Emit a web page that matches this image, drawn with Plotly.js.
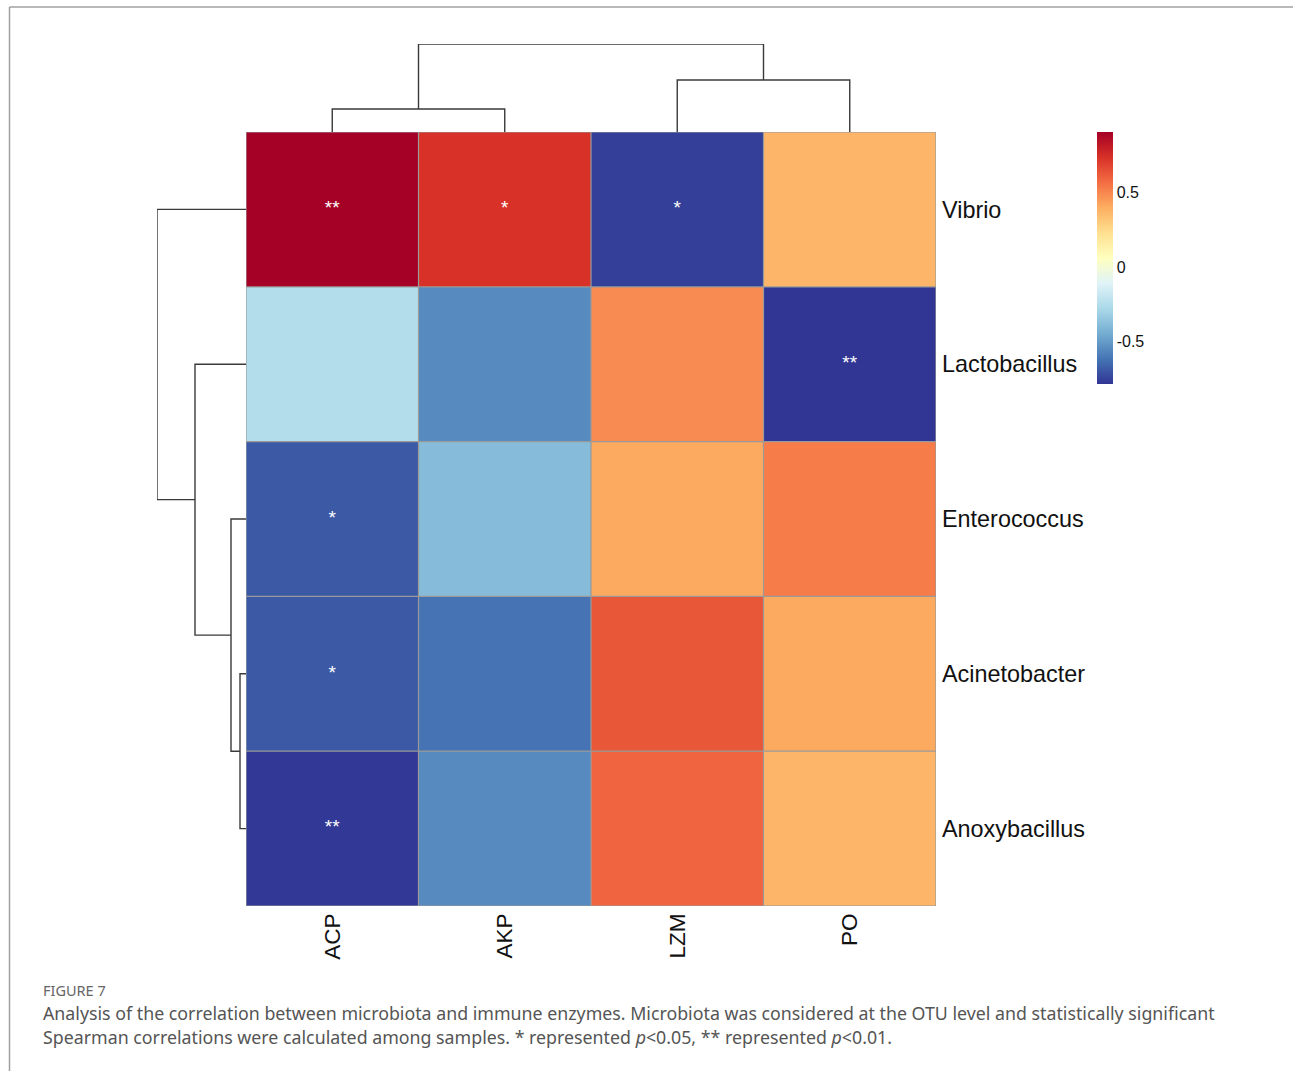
<!DOCTYPE html>
<html>
<head>
<meta charset="utf-8">
<script src="https://cdn.plot.ly/plotly-3.0.1.min.js"></script>
<style>html,body{margin:0;padding:0;background:#fff;}#chart{width:1293px;height:1071px;}</style>
</head>
<body>
<div id="chart"></div>
<script>
// ---- data ----
var colNames = ["ACP", "AKP", "LZM", "PO"];
var rowNames = ["Vibrio", "Lactobacillus", "Enterococcus", "Acinetobacter", "Anoxybacillus"];
var corrVibrio        = [0.906, 0.73, -0.76, 0.37];
var corrLactobacillus = [-0.25, -0.55, 0.49, -0.785];
var corrEnterococcus  = [-0.69, -0.39, 0.41, 0.53];
var corrAcinetobacter = [-0.69, -0.62, 0.63, 0.41];
var corrAnoxybacillus = [-0.78, -0.55, 0.59, 0.37];
var sigVibrio        = ["**", "*", "*", ""];
var sigLactobacillus = ["", "", "", "**"];
var sigEnterococcus  = ["*", "", "", ""];
var sigAcinetobacter = ["*", "", "", ""];
var sigAnoxybacillus = ["**", "", "", ""];
// hclust-style merges (negative = leaf index+1 in display order, positive = earlier merge)
var rowMergeA = [-4, -3, -2, -1];
var rowMergeB = [-5, 1, 2, 3];
var rowMergeH = [0.6, 1.5, 5.1, 8.9];
var colMergeA = [-1, -3, 1];
var colMergeB = [-2, -4, 2];
var colMergeH = [2.3, 5.2, 8.8];
var colorTicks = [-0.5, 0, 0.5];
var zMin = -0.785, zMax = 0.906;

var z = [corrVibrio, corrLactobacillus, corrEnterococcus, corrAcinetobacter, corrAnoxybacillus];
var sig = [sigVibrio, sigLactobacillus, sigEnterococcus, sigAcinetobacter, sigAnoxybacillus];

var W = 1293, H = 1071;
var px = function(v){ return v / W; };
var py = function(v){ return 1 - v / H; };

var rdylbu = ["#313695","#4575B4","#74ADD1","#ABD9E9","#E0F3F8","#FFFFBF","#FEE090","#FDAE61","#F46D43","#D73027","#A50026"];
var cscale = rdylbu.map(function(c, i){ return [i / (rdylbu.length - 1), c]; });

// dendrogram builder
function dendro(A, B, Hs) {
  var pos = [], hgt = [];
  var seg = {p: [], h: []};
  function node(k) {
    if (k < 0) return {p: -k - 1, h: 0};
    return {p: pos[k - 1], h: hgt[k - 1]};
  }
  for (var i = 0; i < A.length; i++) {
    var a = node(A[i]), b = node(B[i]);
    pos.push((a.p + b.p) / 2); hgt.push(Hs[i]);
    seg.p.push(a.p, a.p, b.p, b.p, null);
    seg.h.push(a.h, Hs[i], Hs[i], b.h, null);
  }
  return seg;
}
var rowSeg = dendro(rowMergeA, rowMergeB, rowMergeH);
var colSeg = dendro(colMergeA, colMergeB, colMergeH);

var xi = colNames.map(function(_, i){ return i; });
var yi = rowNames.map(function(_, i){ return i; });

var tx = [], ty = [], tt = [];
sig.forEach(function(r, j){ r.forEach(function(s, i){ if (s) { tx.push(i); ty.push(j); tt.push(s); } }); });

var heat = {
  type: 'heatmap', x: xi, y: yi, z: z,
  zmin: zMin, zmax: zMax, colorscale: cscale, hoverinfo: 'skip',
  colorbar: {
    x: px(1097), xanchor: 'left', y: py(258), yanchor: 'middle',
    thickness: 16, thicknessmode: 'pixels', len: 252, lenmode: 'pixels',
    outlinewidth: 0, ticks: '', tickvals: colorTicks,
    ticktext: colorTicks.map(function(v){ return String(v); }),
    tickfont: {family: 'Liberation Sans, Arial, sans-serif', size: 16, color: '#111'},
    ticklabelposition: 'outside', ticklabelstandoff: 6, xpad: 0, ypad: 0
  }
};
var stars = {
  type: 'scatter', mode: 'text', x: tx, y: ty, text: tt,
  textfont: {family: 'Liberation Sans, Arial, sans-serif', size: 19, color: '#ffffff'},
  textposition: 'middle center', hoverinfo: 'skip', showlegend: false
};
var rowDen = {
  type: 'scatter', mode: 'lines', x: rowSeg.h, y: rowSeg.p, xaxis: 'x2', yaxis: 'y',
  line: {color: '#3a3a3a', width: 1.4}, hoverinfo: 'skip', showlegend: false
};
var colDen = {
  type: 'scatter', mode: 'lines', x: colSeg.p, y: colSeg.h, xaxis: 'x', yaxis: 'y3',
  line: {color: '#3a3a3a', width: 1.4}, hoverinfo: 'skip', showlegend: false
};

var nC = colNames.length, nR = rowNames.length;
var capFont = {family: 'Noto Sans, sans-serif', size: 17.8, color: '#555555'};
var gridColor = '#9a9a9a';

var shapes = [];
for (var i = 0; i <= nC; i++) {
  shapes.push({type: 'line', xref: 'x', yref: 'y', x0: i - 0.5, x1: i - 0.5, y0: -0.5, y1: nR - 0.5,
               line: {color: gridColor, width: 1.2}, layer: 'above'});
}
for (var j = 0; j <= nR; j++) {
  shapes.push({type: 'line', xref: 'x', yref: 'y', x0: -0.5, x1: nC - 0.5, y0: j - 0.5, y1: j - 0.5,
               line: {color: gridColor, width: 1.2}, layer: 'above'});
}
shapes.push({type: 'line', xref: 'paper', yref: 'paper', x0: px(9.5), x1: px(9.5), y0: py(7), y1: -0.01,
             line: {color: '#a0a0a0', width: 1.5}});
shapes.push({type: 'line', xref: 'paper', yref: 'paper', x0: px(9.5), x1: 1.01, y0: py(7), y1: py(7),
             line: {color: '#a0a0a0', width: 1.5}});

var layout = {
  width: W, height: H,
  margin: {l: 0, r: 0, t: 0, b: 0},
  paper_bgcolor: '#ffffff', plot_bgcolor: '#ffffff',
  showlegend: false,
  xaxis: {
    domain: [px(246), px(936)], range: [-0.5, nC - 0.5], anchor: 'y',
    tickvals: xi, ticktext: colNames, tickangle: -90, ticks: '',
    showgrid: false, zeroline: false, showline: false,
    tickfont: {family: 'Liberation Sans, Arial, sans-serif', size: 22.5, color: '#111'},
    ticklabelstandoff: 2, fixedrange: true
  },
  yaxis: {
    domain: [py(906), py(132)], range: [nR - 0.5, -0.5], anchor: 'x', side: 'right',
    tickvals: yi, ticktext: rowNames, ticks: '',
    showgrid: false, zeroline: false, showline: false,
    tickfont: {family: 'Liberation Sans, Arial, sans-serif', size: 23.4, color: '#111'},
    ticklabelstandoff: 5, fixedrange: true
  },
  xaxis2: {
    domain: [px(157), px(246)], range: [rowMergeH[rowMergeH.length - 1], 0], anchor: 'y',
    visible: false, fixedrange: true
  },
  yaxis3: {
    domain: [py(132), py(44)], range: [0, colMergeH[colMergeH.length - 1]], anchor: 'x',
    visible: false, fixedrange: true
  },
  shapes: shapes,
  annotations: [
    {xref: 'paper', yref: 'paper', x: px(41), y: py(990), xanchor: 'left', yanchor: 'middle',
     showarrow: false, text: 'FIGURE 7',
     font: {family: 'Noto Sans, sans-serif', size: 14.5, color: '#666666'}},
    {xref: 'paper', yref: 'paper', x: px(41), y: py(1013), xanchor: 'left', yanchor: 'middle',
     showarrow: false, align: 'left',
     text: 'Analysis of the correlation between microbiota and immune enzymes. Microbiota was considered at the OTU level and statistically significant',
     font: capFont},
    {xref: 'paper', yref: 'paper', x: px(41), y: py(1037), xanchor: 'left', yanchor: 'middle',
     showarrow: false, align: 'left',
     text: 'Spearman correlations were calculated among samples. * represented <i>p</i>&lt;0.05, ** represented <i>p</i>&lt;0.01.',
     font: capFont}
  ]
};

Plotly.newPlot('chart', [heat, stars, rowDen, colDen], layout, {displayModeBar: false, staticPlot: true});
</script>
</body>
</html>
